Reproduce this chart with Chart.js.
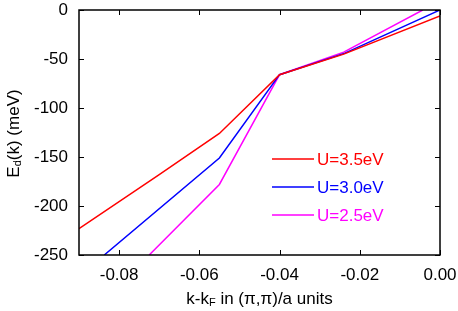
<!DOCTYPE html>
<html>
<head>
<meta charset="utf-8">
<script src="https://cdn.jsdelivr.net/npm/chart.js@4"></script>
<style>
  html, body { margin: 0; padding: 0; background: #ffffff; }
  #wrap { width: 458px; height: 311px; }
</style>
</head>
<body>
<div id="wrap"><canvas id="c" width="458" height="311"></canvas></div>
<script>
// ---- data ----
const seriesLabels = ['U=3.5eV', 'U=3.0eV', 'U=2.5eV'];
const seriesColors = ['#ff0000', '#0000ff', '#ff00ff'];

const kRed  = [-0.09, -0.07, -0.055, -0.04, -0.024, 0.0];
const eRed  = [-223, -168, -126, -66, -45, -6];

const kBlue = [-0.0837, -0.055, -0.04, -0.0237, 0.0];
const eBlue = [-250, -151, -66, -44, 0];

const kMag  = [-0.0725, -0.055, -0.04, -0.024, -0.0043];
const eMag  = [-250, -178, -66, -43, 0];

const xTicks = [-0.08, -0.06, -0.04, -0.02, 0.0];
const yTicks = [-250, -200, -150, -100, -50, 0];

const FONT = '"Liberation Sans", Arial, Helvetica, sans-serif';

function pts(xs, ys) { return xs.map((x, i) => ({ x: x, y: ys[i] })); }

const datasets = [
  { label: seriesLabels[0], data: pts(kRed, eRed),  borderColor: seriesColors[0] },
  { label: seriesLabels[1], data: pts(kBlue, eBlue), borderColor: seriesColors[1] },
  { label: seriesLabels[2], data: pts(kMag, eMag),  borderColor: seriesColors[2] }
].map(d => Object.assign(d, {
  borderWidth: 1.5, pointRadius: 0, fill: false, tension: 0, clip: 0
}));

// frame + inward ticks on all four sides
const framePlugin = {
  id: 'frame',
  afterDatasetsDraw(chart) {
    const { ctx, chartArea: a, scales } = chart;
    ctx.save();
    ctx.strokeStyle = '#000';
    ctx.lineWidth = 1;
    const len = 5;
    ctx.beginPath();
    xTicks.forEach(v => {
      const px = Math.round(scales.x.getPixelForValue(v)) + 0.5;
      ctx.moveTo(px, a.bottom); ctx.lineTo(px, a.bottom - len);
      ctx.moveTo(px, a.top); ctx.lineTo(px, a.top + len);
    });
    yTicks.forEach(v => {
      const py = Math.round(scales.y.getPixelForValue(v)) + 0.5;
      ctx.moveTo(a.left, py); ctx.lineTo(a.left + len, py);
      ctx.moveTo(a.right, py); ctx.lineTo(a.right - len, py);
    });
    ctx.stroke();
    ctx.lineWidth = 1.5;
    ctx.strokeRect(a.left, a.top, a.right - a.left, a.bottom - a.top);
    ctx.restore();
  }
};

// legend inside the plot with coloured text
const legendPlugin = {
  id: 'innerLegend',
  afterDraw(chart) {
    const { ctx, chartArea: a } = chart;
    ctx.save();
    ctx.font = '17px ' + FONT;
    ctx.textBaseline = 'middle';
    ctx.textAlign = 'left';
    chart.data.datasets.forEach((d, i) => {
      const y = a.top + 149 + i * 28;
      const x0 = a.left + 193;
      ctx.strokeStyle = d.borderColor;
      ctx.lineWidth = 1.5;
      ctx.beginPath();
      ctx.moveTo(x0, y); ctx.lineTo(x0 + 42, y);
      ctx.stroke();
      ctx.fillStyle = d.borderColor;
      ctx.fillText(d.label, x0 + 45, y + 1);
    });
    ctx.restore();
  }
};

// axis titles with subscripts
function drawRich(ctx, parts, size) {
  let w = 0;
  parts.forEach(p => {
    ctx.font = (p.sub ? Math.round(size * 0.62) : size) + 'px ' + FONT;
    p.w = ctx.measureText(p.t).width; w += p.w;
  });
  return w;
}
function paintRich(ctx, parts, size, x, y) {
  parts.forEach(p => {
    ctx.font = (p.sub ? Math.round(size * 0.62) : size) + 'px ' + FONT;
    ctx.fillText(p.t, x, p.sub ? y + 2 : y);
    x += p.w;
  });
}
const titlePlugin = {
  id: 'titles',
  afterDraw(chart) {
    const { ctx, chartArea: a } = chart;
    ctx.save();
    ctx.fillStyle = '#000';
    ctx.textBaseline = 'alphabetic';
    ctx.textAlign = 'left';
    const size = 17;
    const xParts = [{ t: 'k-k' }, { t: 'F', sub: true }, { t: ' in (\u03c0,\u03c0)/a units' }];
    const xw = drawRich(ctx, xParts, size);
    paintRich(ctx, xParts, size, (a.left + a.right) / 2 - xw / 2, 304);
    const yParts = [{ t: 'E' }, { t: 'd', sub: true }, { t: '(k) (meV)' }];
    const yw = drawRich(ctx, yParts, size);
    ctx.translate(19, (a.top + a.bottom) / 2 + 1);
    ctx.rotate(-Math.PI / 2);
    paintRich(ctx, yParts, size, -yw / 2, 0);
    ctx.restore();
  }
};

new Chart(document.getElementById('c'), {
  type: 'line',
  data: { datasets: datasets },
  plugins: [framePlugin, legendPlugin, titlePlugin],
  options: {
    responsive: false,
    animation: false,
    devicePixelRatio: 1,
    layout: { padding: { top: 10, right: 18, left: 0, bottom: 0 } },
    plugins: { legend: { display: false }, tooltip: { enabled: false } },
    scales: {
      x: {
        type: 'linear', min: -0.09, max: 0,
        afterBuildTicks: s => { s.ticks = xTicks.map(v => ({ value: v })); },
        afterFit: s => { s.height = 56; s.paddingLeft = 0; s.paddingRight = 0; },
        grid: { display: false, drawTicks: false },
        border: { display: false },
        ticks: {
          padding: 10, color: '#000', maxRotation: 0, autoSkip: false,
          font: { family: FONT, size: 17 },
          callback: v => v.toFixed(2)
        }
      },
      y: {
        type: 'linear', min: -250, max: 0,
        afterBuildTicks: s => { s.ticks = yTicks.map(v => ({ value: v })); },
        afterFit: s => { s.width = 79; s.paddingTop = 0; s.paddingBottom = 0; },
        grid: { display: false, drawTicks: false },
        border: { display: false },
        ticks: {
          padding: 11, color: '#000', autoSkip: false,
          font: { family: FONT, size: 17 },
          callback: v => String(v)
        }
      }
    }
  }
});
</script>
</body>
</html>
